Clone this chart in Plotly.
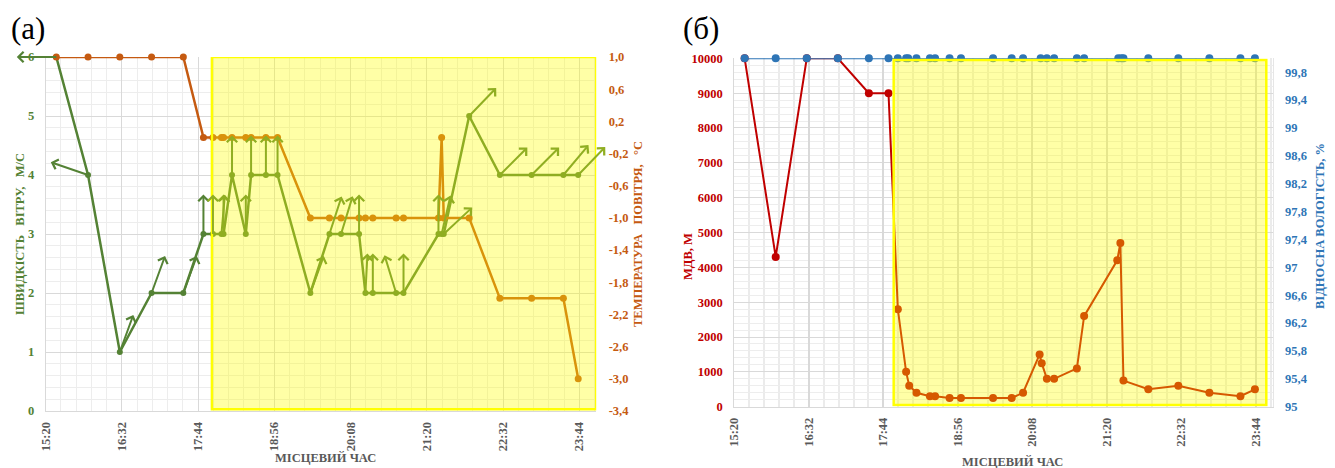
import math
import plotly.graph_objects as go

DAY = "2000-01-01 "
NEXT_DAY = "2000-01-02 00:00"

# ---------- observations (local time) ----------
obs_time = ["15:30", "16:00", "16:30", "17:00", "17:30", "17:49", "17:58", "18:06", "18:08", "18:16",
            "18:29", "18:34", "18:48", "18:59", "19:30", "19:48", "19:59", "20:16", "20:22", "20:29",
            "20:51", "20:58", "21:31", "21:34", "21:36", "22:00", "22:29", "22:59", "23:29", "23:43"]

# wind speed, m/s
wind_speed = [6, 4, 1, 2, 2, 3, 3, 3, 3, 4,
              3, 4, 4, 4, 2, 3, 3, 3, 2, 2,
              2, 2, 3, 3, 3, 5, 4, 4, 4, 4]

# bearing of the wind arrow (degrees clockwise from north)
wind_arrow_deg = [270, 289, 20, 20, 20, 0, 0, 5, 0, 0,
                  0, 0, 0, 0, 20, 18, 17, 0, 3, 0,
                  343, 0, 0, 13, 47, 44, 45, 45, 40, 44]

# air temperature, °C
temperature = [1.0, 1.0, 1.0, 1.0, 1.0, 0.0, 0.0, 0.0, 0.0, 0.0,
               0.0, 0.0, 0.0, 0.0, -1.0, -1.0, -1.0, -1.0, -1.0, -1.0,
               -1.0, -1.0, -1.0, 0.0, -1.0, -1.0, -2.0, -2.0, -2.0, -3.0]

# meteorological visibility, m
vis_time = ["15:30", "16:00", "16:30", "17:00", "17:30", "17:49", "17:58", "18:06", "18:09", "18:16",
            "18:29", "18:34", "18:48", "18:59", "19:30", "19:48", "19:59", "20:15", "20:17", "20:22",
            "20:29", "20:51", "20:58", "21:30", "21:33", "21:36", "22:00", "22:29", "22:59", "23:29", "23:43"]
visibility = [10000, 4300, 10000, 10000, 9000, 9000, 2800, 1000, 600, 400,
              300, 300, 250, 250, 250, 250, 400, 1500, 1250, 800,
              800, 1100, 2600, 4200, 4700, 750, 500, 600, 400, 300, 500]

# relative humidity, %
humidity = [100, 100, 100, 100, 100, 100, 100, 100, 100, 100,
            100, 100, 100, 100, 100, 100, 100, 100, 100, 100,
            100, 100, 100, 100, 100, 100, 100, 100, 100, 100]

# axis ticks
temp_ticks = [-3.4, -3.0, -2.6, -2.2, -1.8, -1.4, -1.0, -0.6, -0.2, 0.2, 0.6, 1.0]
temp_ticktext = ["-3,4", "-3,0", "-2,6", "-2,2", "-1,8", "-1,4", "-1,0", "-0,6", "-0,2", "0,2", "0,6", "1,0"]
hum_ticks = [95, 95.4, 95.8, 96.2, 96.6, 97, 97.4, 97.8, 98.2, 98.6, 99, 99.4, 99.8]
hum_ticktext = ["95", "95,4", "95,8", "96,2", "96,6", "97", "97,4", "97,8", "98,2", "98,6", "99", "99,4", "99,8"]

# fog period highlighted on both panels
fog_left = ("17:57", 0.03, 6.0)
fog_right = ("17:54", "23:54", 50, 9950)

# ---------- styling ----------
W, H = 1335, 468
SERIF = "Liberation Serif"
GREEN = "#548235"
ORANGE = "#C55A11"
RED = "#C00000"
BLUE = "#2E75B6"
GRAY = "#595959"
FOG_ALPHA = 0.35


def under_fog(hex_color):
    r, g, b = (int(hex_color[i:i + 2], 16) for i in (1, 3, 5))
    mix = lambda c, y: round(c * (1 - FOG_ALPHA) + y * FOG_ALPHA)
    return "rgb(%d,%d,%d)" % (mix(r, 255), mix(g, 255), mix(b, 0))


def px_x(p):
    return p / W


def px_y(p):
    return 1 - p / H


def stamp(times):
    return [DAY + t for t in times]


fig = go.Figure()

fig.add_trace(go.Scatter(
    x=stamp(obs_time), y=temperature, xaxis="x", yaxis="y2", mode="lines+markers",
    line=dict(color=ORANGE, width=2.5), marker=dict(color=ORANGE, size=7),
    cliponaxis=False, showlegend=False, hoverinfo="skip"))
fig.add_trace(go.Scatter(
    x=stamp(obs_time), y=wind_speed, xaxis="x", yaxis="y", mode="lines+markers",
    line=dict(color=GREEN, width=2.5), marker=dict(color=GREEN, size=6),
    cliponaxis=False, showlegend=False, hoverinfo="skip"))
fig.add_trace(go.Scatter(
    x=stamp(vis_time), y=visibility, xaxis="x2", yaxis="y3", mode="lines+markers",
    line=dict(color=RED, width=2), marker=dict(color=RED, size=8),
    cliponaxis=False, showlegend=False, hoverinfo="skip"))
fig.add_trace(go.Scatter(
    x=stamp(obs_time), y=humidity, xaxis="x2", yaxis="y4", mode="lines+markers",
    line=dict(color=BLUE, width=2), marker=dict(color=BLUE, size=8),
    cliponaxis=False, showlegend=False, hoverinfo="skip"))

# translucent fog boxes drawn over the series
fig.add_shape(type="rect", xref="x", yref="y", layer="above",
              x0=DAY + fog_left[0], x1=NEXT_DAY, y0=fog_left[1], y1=fog_left[2],
              fillcolor="rgba(255,255,0,%.2f)" % FOG_ALPHA, line=dict(color="#FFFF00", width=2.5))
fig.add_shape(type="rect", xref="x2", yref="y3", layer="above",
              x0=DAY + fog_right[0], x1=DAY + fog_right[1], y0=fog_right[2], y1=fog_right[3],
              fillcolor="rgba(255,255,0,%.2f)" % FOG_ALPHA, line=dict(color="#FFFF00", width=2.5))

annotations = []

# wind direction arrows starting at each observation
ARROW_LEN = 41
for t, v, deg in zip(obs_time, wind_speed, wind_arrow_deg):
    rad = math.radians(deg)
    color = under_fog(GREEN) if t >= fog_left[0] else GREEN
    annotations.append(dict(
        x=DAY + t, y=v, xref="x", yref="y", text="", showarrow=True,
        axref="pixel", ayref="pixel",
        ax=ARROW_LEN * math.sin(rad), ay=-ARROW_LEN * math.cos(rad),
        arrowside="start", startarrowhead=4, startarrowsize=1.0,
        arrowwidth=2, arrowcolor=color))

NB = "\u00a0"


def label(text, x, y, color, angle=0, size=12.5, weight="bold"):
    annotations.append(dict(
        text=text, x=px_x(x), y=px_y(y), xref="paper", yref="paper",
        xanchor="center", yanchor="middle", showarrow=False, textangle=angle,
        font=dict(family=SERIF, size=size, color=color, weight=weight)))


label("ШВИДКІСТЬ" + NB * 3 + "ВІТРУ," + NB * 3 + "М/С", 20, 234, GREEN, -90)
label("ТЕМПЕРАТУРА" + NB * 3 + "ПОВІТРЯ," + NB * 3 + "°С", 638, 234, ORANGE, -90)
label("МІСЦЕВИЙ ЧАС", 325, 458, GRAY)
label("МДВ, М", 688, 257, RED, -90)
label("ВІДНОСНА ВОЛОГІСТЬ, %", 1320, 226, BLUE, -90)
label("МІСЦЕВИЙ ЧАС", 1012, 462, GRAY)
label("(а)", 28, 28, "black", 0, 31, "normal")
label("(б)", 701, 28, "black", 0, 31, "normal")

MAJOR = 72 * 60 * 1000
MINOR = MAJOR // 5


def time_axis(domain, anchor, grid_w, minor_w, minor_color):
    return dict(
        domain=domain, anchor=anchor, type="date", automargin=False,
        range=[DAY + "15:20", NEXT_DAY],
        tick0=DAY + "15:20", dtick=MAJOR, tickformat="%H:%M", tickangle=-90,
        tickfont=dict(family=SERIF, size=12.5, color=GRAY, weight="bold"),
        ticks="outside", ticklen=5, tickcolor="rgba(0,0,0,0)",
        showgrid=True, gridcolor="#d9d9d9", gridwidth=grid_w,
        minor=dict(tick0=DAY + "15:20", dtick=MINOR, showgrid=True,
                   gridcolor=minor_color, gridwidth=minor_w),
        showline=True, linecolor="#d9d9d9", linewidth=1, zeroline=False, fixedrange=True)


fig.update_layout(
    template="none",
    width=W, height=H, margin=dict(l=0, r=0, t=0, b=0, pad=0),
    paper_bgcolor="white", plot_bgcolor="white", showlegend=False,
    xaxis=time_axis([px_x(45.7), px_x(596.2)], "y", 1, 1, "#ededed"),
    xaxis2=time_axis([px_x(734.3), px_x(1272.5)], "y3", 1.5, 2, "#ebebeb"),
    yaxis=dict(
        domain=[px_y(411), px_y(57)], anchor="x", range=[0, 6], dtick=1, automargin=False,
        tickfont=dict(family=SERIF, size=12.5, color=GREEN, weight="bold"),
        ticks="outside", ticklen=8, tickcolor="rgba(0,0,0,0)",
        showgrid=True, gridcolor="#d9d9d9",
        minor=dict(dtick=0.2, showgrid=True, gridcolor="#ededed"),
        showline=True, linecolor="#d9d9d9", zeroline=False),
    yaxis2=dict(
        overlaying="y", side="right", anchor="x", range=[-3.4, 1.0], automargin=False,
        tickvals=temp_ticks, ticktext=temp_ticktext,
        tickfont=dict(family=SERIF, size=12.5, color=ORANGE, weight="bold"),
        ticks="outside", ticklen=9, tickcolor="rgba(0,0,0,0)",
        showgrid=False, zeroline=False),
    yaxis3=dict(
        domain=[px_y(406.7), px_y(58.3)], anchor="x2", range=[0, 10000], dtick=1000,
        tickformat="d", automargin=False,
        tickfont=dict(family=SERIF, size=12.5, color=RED, weight="bold"),
        ticks="outside", ticklen=8, tickcolor="rgba(0,0,0,0)",
        showgrid=True, gridcolor="#d9d9d9",
        minor=dict(dtick=200, showgrid=True, gridcolor="#ededed"),
        showline=True, linecolor="#d9d9d9", zeroline=False),
    yaxis4=dict(
        overlaying="y3", side="right", anchor="x2", range=[95, 100], automargin=False,
        tickvals=hum_ticks, ticktext=hum_ticktext,
        tickfont=dict(family=SERIF, size=12.5, color=BLUE, weight="bold"),
        ticks="outside", ticklen=9, tickcolor="rgba(0,0,0,0)",
        showgrid=False, showline=True, linecolor="#e6e6e6", zeroline=False),
    annotations=annotations,
)

fig.write_html("out.html")
